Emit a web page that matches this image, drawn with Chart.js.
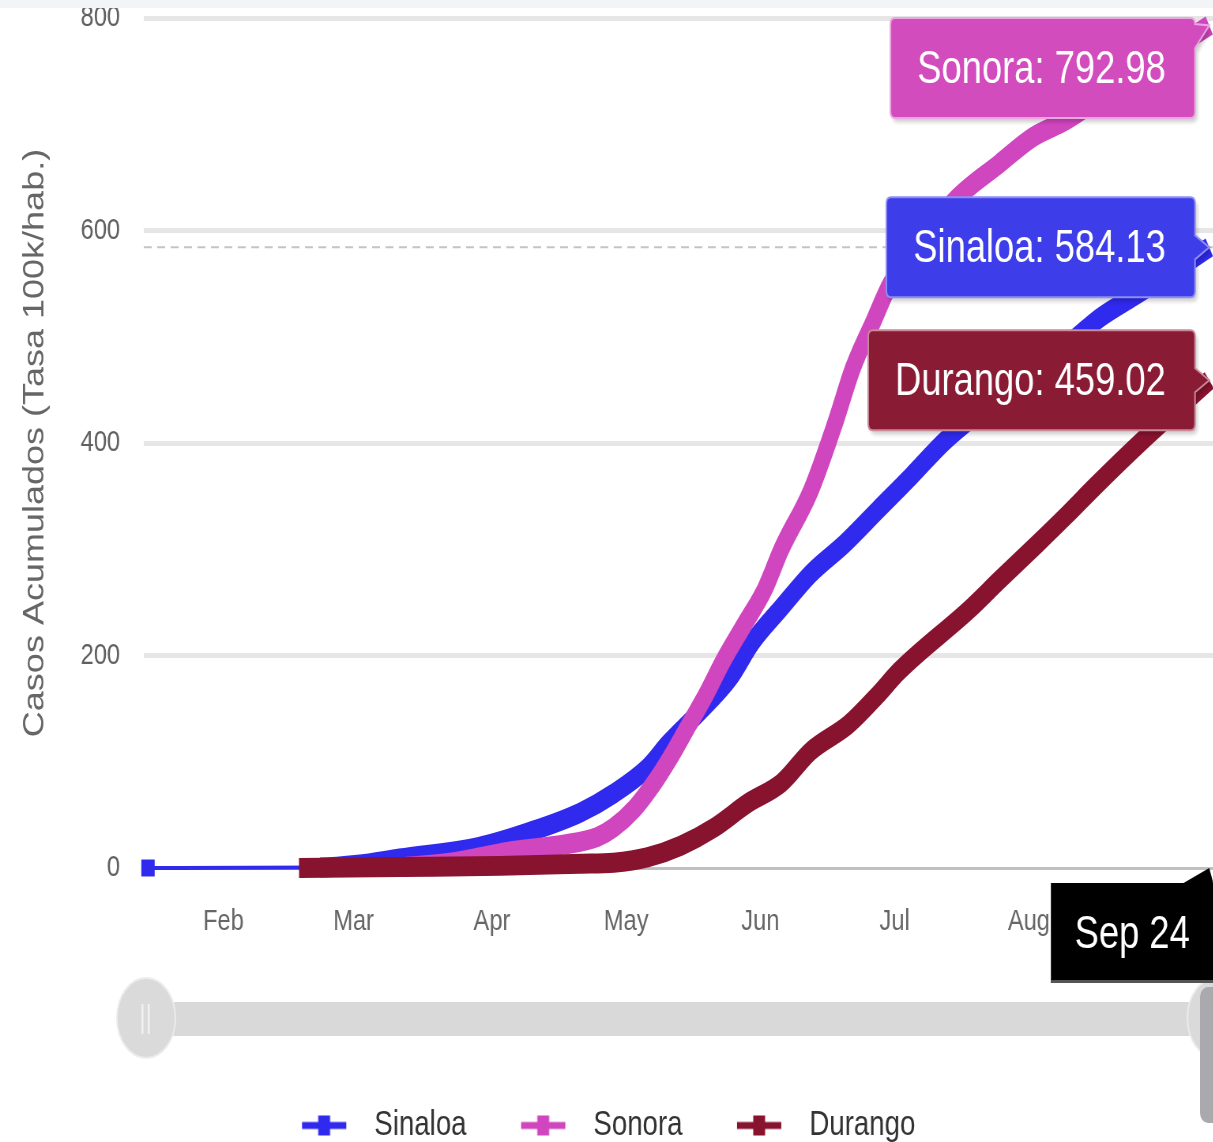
<!DOCTYPE html>
<html>
<head>
<meta charset="utf-8">
<title>Casos acumulados</title>
<script src="https://cdn.jsdelivr.net/npm/chart.js@4.4.1/dist/chart.umd.min.js"></script>
<style>
  html, body { margin: 0; padding: 0; background: #fff; overflow: hidden; }
  body { width: 1213px; height: 1142px; position: relative; }
  /* the whole picture is squeezed horizontally */
  #wrap { position: absolute; left: 0; top: -30px; transform: scaleX(0.79); transform-origin: 0 0; }
  #topband { position: absolute; left: 0; top: 0; width: 1213px; height: 8px; background: #f3f4f8; }
</style>
</head>
<body>
<div id="wrap"><canvas id="casosChart" width="1536" height="1183"></canvas></div>
<div id="topband"></div>
<script>
// día del año 2020 (1 = 1 ene) y tasa acumulada por 100k hab.
const sinaloaDays = [15, 56, 65, 75, 94, 106, 118, 126, 134, 139, 146, 154, 159, 166, 173, 181, 189, 197, 205, 215, 225, 235, 242, 250, 260, 268];
const sinaloaValues = [0, 0.5, 3, 9, 20, 34, 52, 70, 94, 117, 145, 180, 212, 245, 277, 305, 337, 369, 402, 435, 466, 495, 518, 538, 563, 584.13];

const sonoraDays = [76, 87, 94, 102, 114, 122, 126, 131, 136, 140, 144, 148, 152, 157, 162, 166, 173, 179, 183, 188, 192, 207, 218, 226, 234, 251, 268];
const sonoraValues = [1, 5, 10, 16, 22, 29, 38, 56, 82, 107, 135, 163, 194, 228, 262, 300, 355, 421, 470, 515, 550, 627, 663, 688, 704, 750, 792.98];

const durangoDays = [51, 75, 99, 118, 126, 134, 142, 150, 158, 166, 173, 182, 189, 194, 211, 218, 227, 234, 241, 252, 268];
const durangoValues = [0, 1, 2, 4, 5, 10, 21, 38, 61, 80, 110, 135, 163, 185, 244, 271, 305, 332, 360, 402, 459.02];

// etiquetas del eje x (posición)
const monthTicks = [33, 64, 97, 129, 161, 193, 225];
const monthLabels = ["Feb", "Mar", "Apr", "May", "Jun", "Jul", "Aug"];
const lastDateLabel = "Sep 24";

const seriesNames = ["Sinaloa", "Sonora", "Durango"];
const lineColors = ["#3029ee", "#d046bf", "#87132f"];
const boxColors = ["#3d3dea", "#d24cbe", "#891b35"];
const boxBorders = ["#8d8df4", "#eaa6df", "#c98a99"];

const FONT = '"Liberation Sans", Arial, sans-serif';
Chart.defaults.font.family = FONT;
Chart.defaults.color = "#666";

const toPoints = (days, values) => days.map((d, i) => ({ x: d, y: values[i] }));

// icono de leyenda: línea con marcador cuadrado
const legendIcons = lineColors.map(color => {
  const c = document.createElement("canvas");
  c.width = 79;
  c.height = 24;
  const g = c.getContext("2d");
  g.fillStyle = color;
  g.fillRect(5, 8.5, 56, 7);
  g.fillRect(25.5, 2, 15, 20);
  return c;
});

function balloon(ctx, l, t, w, h, r, px, py) {
  const R = l + w, B = t + h;
  const ay = Math.min(Math.max(py, t + r + 12), B - r - 12);
  ctx.beginPath();
  ctx.moveTo(l + r, t);
  ctx.lineTo(R - r, t);
  ctx.quadraticCurveTo(R, t, R, t + r);
  ctx.lineTo(R, ay - 12);
  ctx.lineTo(px, py);
  ctx.lineTo(R, ay + 12);
  ctx.lineTo(R, B - r);
  ctx.quadraticCurveTo(R, B, R - r, B);
  ctx.lineTo(l + r, B);
  ctx.quadraticCurveTo(l, B, l, B - r);
  ctx.lineTo(l, t + r);
  ctx.quadraticCurveTo(l, t, l + r, t);
  ctx.closePath();
}

function drawTooltips(chart) {
  const { ctx, chartArea } = chart;
  ctx.save();
  ctx.font = "46px " + FONT;
  ctx.textBaseline = "middle";
  ctx.textAlign = "right";
  chart.data.datasets.forEach((ds, i) => {
    const pts = chart.getDatasetMeta(i).data;
    const p = pts[pts.length - 1];
    const text = ds.label + ": " + ds.data[ds.data.length - 1].y.toFixed(2);
    const w = ctx.measureText(text).width + 71;
    const h = 100;
    const right = p.x - 18;
    const top = Math.max(p.y - h / 2, chartArea.top);
    ctx.save();
    ctx.shadowColor = "rgba(0,0,0,0.2)";
    ctx.shadowOffsetX = 3;
    ctx.shadowOffsetY = 4;
    ctx.shadowBlur = 4;
    balloon(ctx, right - w, top, w, h, 6, p.x, p.y);
    ctx.fillStyle = boxColors[i];
    ctx.fill();
    ctx.restore();
    ctx.lineWidth = 2;
    ctx.strokeStyle = boxBorders[i];
    ctx.stroke();
    ctx.fillStyle = "#fff";
    ctx.fillText(text, right - 37, top + h / 2 + 2);
  });
  ctx.restore();
}

function drawDateLabel(chart) {
  const { ctx, chartArea } = chart;
  const pts = chart.getDatasetMeta(0).data;
  const p = pts[pts.length - 1];
  ctx.save();
  ctx.font = "46px " + FONT;
  const w = ctx.measureText(lastDateLabel).width + 60;
  const right = chart.width;
  const top = chartArea.bottom + 15;
  const h = 100;
  ctx.fillStyle = "#000";
  ctx.fillRect(right - w, top, w, h);
  ctx.fillStyle = "#555";
  ctx.fillRect(right - w, top + h - 3, w, 3);
  ctx.fillStyle = "#000";
  ctx.beginPath();
  ctx.moveTo(right - 40, top + 1);
  ctx.lineTo(p.x, chartArea.bottom);
  ctx.lineTo(right, top + 1);
  ctx.closePath();
  ctx.fill();
  ctx.fillStyle = "#fff";
  ctx.textAlign = "center";
  ctx.textBaseline = "middle";
  ctx.fillText(lastDateLabel, right - w / 2, top + h / 2 + 2);
  ctx.restore();
}

function drawNavigator(chart) {
  const { ctx, chartArea } = chart;
  const y0 = chartArea.bottom + 134;
  ctx.save();
  ctx.fillStyle = "#d9d9d9";
  ctx.fillRect(chartArea.left + 33, y0, chart.width - chartArea.left - 63, 34);
  // tiradores
  [chartArea.left + 3, chart.width + 4].forEach(cx => {
    ctx.beginPath();
    ctx.ellipse(cx, y0 + 16, 37, 40, 0, 0, Math.PI * 2);
    ctx.fillStyle = "#dadada";
    ctx.fill();
    ctx.lineWidth = 2;
    ctx.strokeStyle = "#ececec";
    ctx.stroke();
    ctx.fillStyle = "#f1f1f1";
    ctx.fillRect(cx - 6, y0 + 2, 2.5, 30);
    ctx.fillRect(cx + 2, y0 + 2, 2.5, 30);
  });
  // barra de desplazamiento a la derecha
  ctx.fillStyle = "#a9a9ae";
  ctx.beginPath();
  ctx.roundRect(chart.width - 17, y0 - 15, 30, 136, 10);
  ctx.fill();
  ctx.restore();
}

const overlay = {
  id: "overlay",
  beforeDatasetsDraw(chart) {
    const { ctx, chartArea } = chart;
    const pts = chart.getDatasetMeta(0).data;
    const p = pts[pts.length - 1];
    ctx.save();
    ctx.strokeStyle = "#c4c4c4";
    ctx.lineWidth = 2;
    ctx.setLineDash([10, 7]);
    ctx.beginPath();
    ctx.moveTo(chartArea.left, p.y);
    ctx.lineTo(chartArea.right, p.y);
    ctx.stroke();
    ctx.restore();
  },
  afterDraw(chart) {
    drawNavigator(chart);
    drawTooltips(chart);
    drawDateLabel(chart);
  }
};

const series = [
  toPoints(sinaloaDays, sinaloaValues),
  toPoints(sonoraDays, sonoraValues),
  toPoints(durangoDays, durangoValues)
];

const ctx = document.getElementById("casosChart").getContext("2d");

new Chart(ctx, {
  type: "line",
  data: {
    datasets: series.map((data, i) => ({
      label: seriesNames[i],
      data,
      order: 3 - i, // Durango encima
      clip: 14,
      borderColor: lineColors[i],
      backgroundColor: lineColors[i],
      borderWidth: 20,
      borderCapStyle: "butt",
      borderJoinStyle: "round",
      cubicInterpolationMode: "monotone",
      pointStyle: "rect",
      pointRadius: c => (i === 0 && c.dataIndex === 0 ? 12 : 0),
      pointBorderWidth: 0,
      segment: {
        // tramo sin datos intermedios: línea fina
        borderWidth: c => (c.p1.parsed.x - c.p0.parsed.x > 30 ? 4 : 20)
      }
    }))
  },
  options: {
    responsive: false,
    animation: false,
    devicePixelRatio: 1,
    layout: { autoPadding: false, padding: { top: 42, left: 0, right: 0, bottom: 0 } },
    scales: {
      x: {
        type: "linear",
        min: 14,
        max: 269,
        afterBuildTicks: s => { s.ticks = monthTicks.map(v => ({ value: v })); },
        afterFit: s => { s.height = 176; },
        grid: { color: "transparent", drawTicks: false },
        border: { display: true, color: "#c0c0c0", width: 3 },
        ticks: {
          autoSkip: false,
          maxRotation: 0,
          padding: 36,
          font: { size: 30 },
          color: "#666",
          callback: (v, idx) => monthLabels[idx]
        }
      },
      y: {
        min: 0,
        max: 800,
        afterFit: s => { s.width = 182; },
        grid: {
          color: c => (c.tick.value === 0 ? "transparent" : "#e6e6e6"),
          lineWidth: 5,
          drawTicks: false
        },
        border: { display: false },
        ticks: { stepSize: 200, padding: 30, font: { size: 30 }, color: "#606060" },
        title: {
          display: true,
          text: "Casos Acumulados (Tasa 100k/hab.)",
          font: { size: 36 },
          color: "#666",
          padding: { top: 23, bottom: 0 }
        }
      }
    },
    plugins: {
      tooltip: { enabled: false },
      legend: {
        position: "bottom",
        labels: {
          usePointStyle: true,
          pointStyleWidth: 79,
          padding: 64,
          color: "#333",
          font: { size: 35 },
          generateLabels: chart => {
            const items = Chart.defaults.plugins.legend.labels.generateLabels(chart);
            items.sort((a, b) => a.datasetIndex - b.datasetIndex);
            items.forEach(item => { item.pointStyle = legendIcons[item.datasetIndex]; });
            return items;
          }
        }
      }
    }
  },
  plugins: [overlay]
});
</script>
</body>
</html>
